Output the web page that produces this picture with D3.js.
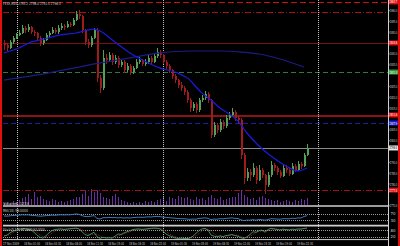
<!DOCTYPE html>
<html>
<head>
<meta charset="utf-8">
<script src="https://cdn.jsdelivr.net/npm/d3@7"></script>
<style>
html, body { margin: 0; padding: 0; background: #000; }
svg { display: block; }
text { font-family: "DejaVu Sans", sans-serif; }
</style>
</head>
<body>
<svg id="chart" width="400" height="246"></svg>
<script>
// ---- data ----
const title = "FESX,M30  2793.2 2798.0 2792.5 2796.4";

// [open, high, low, close] per bar
const candles = [
  [2845.0,2846.0,2841.5,2843.9],[2843.9,2844.8,2841.0,2842.5],[2842.5,2846.0,2842.0,2845.2],[2845.2,2848.0,2844.5,2847.1],
  [2847.1,2849.5,2846.5,2848.5],[2848.5,2850.6,2847.8,2849.4],[2849.4,2853.0,2849.0,2851.7],[2851.7,2852.8,2849.6,2850.8],
  [2850.8,2853.4,2850.0,2852.2],[2852.2,2852.8,2848.9,2849.8],[2849.8,2851.0,2848.2,2849.4],[2849.4,2850.0,2846.0,2847.1],
  [2847.1,2848.0,2843.5,2844.8],[2844.8,2847.3,2843.9,2846.2],[2846.2,2849.3,2845.5,2848.5],[2848.5,2850.5,2847.6,2849.4],
  [2849.4,2852.0,2848.8,2850.8],[2850.8,2851.6,2848.7,2849.8],[2849.8,2852.9,2849.0,2851.7],[2851.7,2853.8,2850.9,2852.6],
  [2852.6,2853.6,2851.0,2852.2],[2852.2,2854.8,2851.5,2853.5],[2853.5,2854.6,2852.0,2853.1],[2853.1,2856.5,2852.6,2855.4],
  [2855.4,2859.5,2854.8,2858.1],[2858.1,2859.8,2855.9,2857.2],[2857.2,2857.9,2849.5,2850.8],[2850.8,2851.4,2843.9,2845.2],
  [2845.2,2846.6,2842.4,2843.9],[2843.9,2848.0,2843.0,2847.1],[2847.1,2851.9,2846.4,2850.8],[2850.8,2851.5,2827.0,2828.6],
  [2828.6,2830.0,2821.6,2824.0],[2824.0,2841.5,2823.0,2837.9],[2837.9,2839.5,2835.0,2836.9],[2836.9,2840.6,2835.9,2839.2],
  [2839.2,2840.0,2834.8,2836.0],[2836.0,2839.1,2834.9,2837.9],[2837.9,2838.6,2833.3,2834.6],[2834.6,2837.4,2833.8,2836.0],
  [2836.0,2836.8,2830.9,2832.3],[2832.3,2835.6,2831.4,2834.2],[2834.2,2835.0,2830.0,2831.4],[2831.4,2834.4,2830.6,2833.3],
  [2833.3,2837.2,2832.6,2836.0],[2836.0,2838.3,2835.1,2836.9],[2836.9,2837.6,2834.0,2835.1],[2835.1,2837.5,2834.3,2836.0],
  [2836.0,2839.2,2835.2,2837.9],[2837.9,2838.6,2834.8,2836.0],[2836.0,2840.0,2835.4,2838.8],[2838.8,2842.5,2838.0,2840.6],
  [2840.6,2841.5,2838.0,2839.2],[2839.2,2839.9,2834.9,2836.0],[2836.0,2836.8,2833.0,2834.2],[2834.2,2835.0,2831.1,2832.3],
  [2832.3,2833.0,2828.3,2829.6],[2829.6,2830.5,2826.5,2827.7],[2827.7,2828.4,2824.1,2825.4],[2825.4,2826.6,2822.6,2824.0],
  [2824.0,2825.0,2820.8,2822.2],[2822.2,2823.0,2817.0,2818.5],[2818.5,2819.4,2813.2,2814.8],[2814.8,2817.8,2813.6,2816.7],
  [2816.7,2817.4,2812.5,2813.9],[2813.9,2819.6,2813.2,2818.5],[2818.5,2820.8,2817.5,2819.4],[2819.4,2822.8,2818.6,2821.3],
  [2821.3,2822.0,2817.0,2818.5],[2818.5,2819.2,2801.0,2802.4],[2802.4,2808.4,2801.5,2807.0],[2807.0,2807.8,2803.5,2804.7],
  [2804.7,2809.6,2803.9,2808.4],[2808.4,2809.2,2805.2,2806.5],[2806.5,2811.4,2805.8,2810.2],[2810.2,2812.9,2809.3,2811.6],
  [2811.6,2814.6,2810.8,2813.0],[2813.0,2813.8,2808.9,2810.2],[2810.2,2811.5,2807.6,2809.3],[2809.3,2810.0,2791.5,2793.1],
  [2793.1,2794.0,2780.0,2782.5],[2782.5,2787.0,2781.2,2785.3],[2785.3,2786.5,2781.0,2783.9],[2783.9,2789.5,2783.0,2787.2],
  [2787.2,2788.0,2779.6,2781.6],[2781.6,2788.6,2781.0,2786.2],[2786.2,2787.0,2782.4,2783.9],[2783.9,2784.6,2775.0,2779.3],
  [2779.3,2785.2,2778.3,2783.9],[2783.9,2790.5,2783.2,2788.5],[2788.5,2789.6,2786.0,2787.2],[2787.2,2788.2,2784.0,2785.3],
  [2785.3,2786.1,2782.4,2783.5],[2783.5,2788.4,2782.9,2787.2],[2787.2,2788.6,2785.0,2786.2],[2786.2,2787.0,2783.3,2784.4],
  [2784.4,2789.4,2783.8,2788.1],[2788.1,2788.9,2785.2,2786.2],[2786.2,2790.4,2785.6,2789.0],[2789.0,2789.8,2786.8,2788.1],
  [2788.1,2794.0,2787.4,2793.2],[2793.2,2798.0,2792.5,2796.4]
];

const volumes = [
  2,3,2,4,3, 5,7,9,12,6, 14,8,10,6,5, 4,6,5,3,4, 3,4,5,6,8, 9,12,15,10,17,
  14,16,13,9,7, 6,10,12,8,5, 4,3,2,3,2, 3,2,4,3,4, 3,5,6,8,4, 9,7,6,10,8,
  7,9,6,5,8, 6,7,5,9,11, 7,6,8,5,6, 7,8,9,13,16, 11,9,6,7,5, 8,10,7,6,5,
  4,5,3,4,5, 4,3,5,4,6, 5,7
];

// moving averages, [bar, price]
const maFast = [[0,2840.2],[5,2842.5],[9,2845.2],[12,2846.2],[19,2848.5],[24,2849.4],[30,2851.2],[32,2850.3],
  [37,2845.2],[42,2840.2],[47,2836.4],[52,2833.2],[58,2830.9],[62,2827.7],[64,2824.5],[66,2821.7],[69,2818.5],
  [72,2814.8],[74,2813.0],[78,2808.8],[81,2803.3],[85,2797.3],[89,2792.7],[94,2788.1],[98,2785.8],[101,2787.2]];
const maSlow = [[0,2827.7],[15,2831.0],[25,2833.7],[32,2835.6],[42,2837.9],[52,2840.2],[62,2841.1],
  [72,2841.1],[79,2840.6],[85,2839.7],[92,2837.4],[100,2833.7]];

const rsi = [
  56,55,57,59,60,61,63,62,63,60, 59,57,55,56,58,59,61,60,62,63, 62,63,63,65,68,66,58,53,52,55,
  58,42,38,46,46,48,46,47,45,46, 44,46,44,46,48,49,48,49,51,50, 52,54,52,49,48,46,44,43,41,40,
  40,38,36,38,37,42,43,45,42,34, 38,37,40,39,42,43,45,42,41,33, 29,32,31,35,31,36,34,31,35,40,
  39,38,37,40,40,39,43,41,45,44, 53,58
];
const stochMain = [
  25,35,55,70,80,88,90,92,85,80, 60,35,15,8,30,55,75,85,88,90, 85,88,92,95,97,90,65,40,30,45,
  60,20,5,15,10,12,8,25,45,40, 55,65,75,85,88,90,85,88,92,95, 97,96,90,70,45,30,20,10,5,8,
  5,4,10,25,50,75,90,95,80,35, 25,20,28,22,30,35,40,30,25,10, 5,20,40,65,60,75,80,60,85,95,
  90,85,80,88,85,80,88,85,90,88, 95,97
];
const stochSignal = [
  30,32,38,57,74,86,89,90,89,86, 75,58,37,19,18,31,53,72,83,88, 88,88,88,92,95,94,84,65,45,38,
  45,42,28,13,10,12,10,15,26,37, 47,55,65,75,83,88,88,88,88,92, 95,96,94,85,68,48,32,20,12,8,
  6,6,6,13,28,50,72,87,88,70, 47,27,24,23,27,29,35,35,32,22, 13,12,22,42,55,67,72,72,75,80,
  90,90,85,84,84,84,84,84,88,88, 91,93
];

const priceTicks = [2860,2855,2850,2845,2840,2835,2830,2825,2820,2815,2810,2805,2800,2795,2790,2785,2780,2775,2770];
const levelPrices = [2863.7, 2859.1, 2844.8, 2831.4, 2811.6, 2807.9, 2796.4, 2777.0];
const levelStyles = [
  { c: "#d01010", dash: "6,3", w: 1.5, box: "#e01010", txt: "#fff" },
  { c: "#a01020", dash: "6,2,1,2", w: 1, box: null },
  { c: "#7a1010", dash: null, w: 1, box: "#e01010", txt: "#fff" },
  { c: "#2f7a35", dash: "5,3", w: 1, box: "#2f9a35", txt: "#fff" },
  { c: "#8a1414", dash: null, w: 2, box: "#e01010", txt: "#fff" },
  { c: "#1a1aa8", dash: "5,3", w: 1, box: "#1a1ad0", txt: "#fff" },
  { c: "#8a8a8a", dash: null, w: 1, box: "#e8e8e8", txt: "#000" },
  { c: "#a01020", dash: "6,2,1,2", w: 1, box: "#e01010", txt: "#fff" }
];
const separators = [4.4, 53, 104.7];
const timeLabels = [[0,"17 Nov 2009"],[7,"18 Nov 01:00"],[14,"18 Nov 04:30"],[21,"18 Nov 08:00"],[28,"18 Nov 11:30"],
  [35,"18 Nov 15:00"],[42,"18 Nov 18:30"],[49,"18 Nov 22:00"],[56,"19 Nov 01:30"],[63,"19 Nov 05:00"],
  [70,"19 Nov 08:30"],[77,"19 Nov 12:00"],[84,"19 Nov 15:30"],[91,"19 Nov 19:00"],[98,"19 Nov 22:30"]];
const rsiLevels = [70, 30];
const stochLevels = [80, 20];

// ---- layout ----
const W = 400, H = 246;
const axisX = 388;
const svg = d3.select("#chart");
svg.append("rect").attr("width", W).attr("height", H).attr("fill", "#000");

const x = d3.scaleLinear().domain([0, 100]).range([4, 304]);
const y = d3.scaleLinear().domain([2775, 2864.6]).range([194.4, 0]);
const yVol = d3.scaleLinear().domain([0, 18]).range([205, 188]);
const yRsi = d3.scaleLinear().domain([0, 100]).range([225.5, 208.5]);
const ySto = d3.scaleLinear().domain([0, 100]).range([239, 227.8]);

// tiny squeezed text: real font height, width fitted by a horizontal scale
function label(parent, tx, ty, str, size, width, fill) {
  const t = parent.append("text")
    .attr("font-size", size).attr("fill", fill || "#cfcfcf").text(str);
  const natural = t.node().getComputedTextLength() || 1;
  const k = Math.min(1, width / natural);
  t.attr("transform", `translate(${tx},${ty}) scale(${k},1)`);
  return t;
}

const plot = svg.append("g").attr("shape-rendering", "crispEdges");

// volumes
plot.selectAll("rect.vol").data(volumes).join("rect")
  .attr("class", "vol")
  .attr("x", (d, i) => Math.round(x(i)))
  .attr("y", d => yVol(d))
  .attr("width", 1)
  .attr("height", d => yVol(0) - yVol(d))
  .attr("fill", "#6a2fa0");

// horizontal levels
levelPrices.forEach((p, i) => {
  const s = levelStyles[i];
  plot.append("line")
    .attr("x1", 3).attr("x2", axisX)
    .attr("y1", Math.round(y(p)) + 0.5).attr("y2", Math.round(y(p)) + 0.5)
    .attr("stroke", s.c).attr("stroke-width", s.w)
    .attr("stroke-dasharray", s.dash);
});

// period separators
separators.forEach(b => {
  plot.append("line")
    .attr("x1", Math.round(x(b)) + 0.5).attr("x2", Math.round(x(b)) + 0.5)
    .attr("y1", 0).attr("y2", 240)
    .attr("stroke", "#bdbdbd").attr("stroke-dasharray", "1,1");
});

// candles
const cg = plot.selectAll("g.c").data(candles).join("g").attr("class", "c");
cg.append("line")
  .attr("x1", (d, i) => Math.round(x(i)) + 0.5).attr("x2", (d, i) => Math.round(x(i)) + 0.5)
  .attr("y1", d => y(d[1])).attr("y2", d => y(d[2]))
  .attr("stroke", d => d[3] >= d[0] ? "#54a055" : "#a01c1c");
cg.append("rect")
  .attr("x", (d, i) => Math.round(x(i)))
  .attr("y", d => y(Math.max(d[0], d[3])))
  .attr("width", 2)
  .attr("height", d => Math.max(1, Math.abs(y(d[0]) - y(d[3]))))
  .attr("fill", d => d[3] >= d[0] ? "#54a055" : "#a01c1c");

// moving averages
const maLine = d3.line().x(d => x(d[0])).y(d => y(d[1])).curve(d3.curveMonotoneX);
svg.append("path").attr("d", maLine(maSlow)).attr("fill", "none").attr("stroke", "#1c1c86").attr("stroke-width", 1.2);
svg.append("path").attr("d", maLine(maFast)).attr("fill", "none").attr("stroke", "#1a1ae0").attr("stroke-width", 1.2);

// sub window frames
[[206, 1.6], [225.6, 1.6], [239.6, 1]].forEach(([yy, w]) => {
  svg.append("line").attr("x1", 3).attr("x2", axisX).attr("y1", yy).attr("y2", yy)
    .attr("stroke", "#cfcfcf").attr("stroke-width", w);
});

// rsi window
rsiLevels.forEach(v => {
  svg.append("line").attr("x1", 3).attr("x2", axisX)
    .attr("y1", Math.round(yRsi(v)) + 0.5).attr("y2", Math.round(yRsi(v)) + 0.5)
    .attr("stroke", "#9a9a9a").attr("stroke-dasharray", "1,1").attr("shape-rendering", "crispEdges");
});
svg.append("path")
  .attr("d", d3.line().x((d, i) => x(i)).y(d => yRsi(d))(rsi))
  .attr("fill", "none").attr("stroke", "#3f79b8").attr("stroke-width", 1);

// stochastic window
stochLevels.forEach(v => {
  svg.append("line").attr("x1", 3).attr("x2", axisX)
    .attr("y1", Math.round(ySto(v)) + 0.5).attr("y2", Math.round(ySto(v)) + 0.5)
    .attr("stroke", "#9a9a9a").attr("stroke-dasharray", "1,1").attr("shape-rendering", "crispEdges");
});
svg.append("path")
  .attr("d", d3.line().x((d, i) => x(i)).y(d => ySto(d))(stochSignal))
  .attr("fill", "none").attr("stroke", "#b02020").attr("stroke-width", 0.9).attr("stroke-dasharray", "1,1");
svg.append("path")
  .attr("d", d3.line().x((d, i) => x(i)).y(d => ySto(d))(stochMain))
  .attr("fill", "none").attr("stroke", "#3c9c6a").attr("stroke-width", 0.9);

// price axis (ticks hidden where a level box sits)
const boxed = levelPrices.filter((p, i) => levelStyles[i].box);
const shownTicks = priceTicks.filter(t => boxed.every(p => Math.abs(y(t) - y(p)) > 5));
svg.append("line").attr("x1", axisX + 0.5).attr("x2", axisX + 0.5).attr("y1", 0).attr("y2", 246)
  .attr("stroke", "#cfcfcf");
const axisG = svg.append("g").attr("transform", `translate(${axisX},0)`);
axisG.call(d3.axisRight(y).tickValues(shownTicks).tickSize(1.5).tickFormat(""));
axisG.select(".domain").remove();
axisG.selectAll(".tick line").attr("stroke", "#cfcfcf");
axisG.selectAll(".tick").each(function(d) {
  label(d3.select(this), 1.8, 1.5, d3.format(".1f")(d), 4, 7.6);
});

// level price boxes
levelPrices.forEach((p, i) => {
  const s = levelStyles[i];
  if (!s.box) return;
  const yy = y(p);
  svg.append("rect").attr("x", axisX + 1).attr("y", yy - 2.5).attr("width", 9).attr("height", 5).attr("fill", s.box);
  label(svg, axisX + 1.6, yy + 1.5, d3.format(".1f")(p), 4, 7.6, s.txt);
});

// sub window axis labels
const subLabels = [[yRsi(70), "70"], [yRsi(30), "30"], [ySto(80), "80"], [ySto(20), "20"]];
subLabels.forEach(([yy, t]) => label(svg, axisX + 2.5, yy + 1.5, t, 4, 5));

// time axis
timeLabels.forEach(([b, t]) => label(svg, x(b) - 1, 245, t, 4, 16));

// window captions
label(svg, 3, 5, title, 4.2, 58);
label(svg, 3, 204.5, "Volumes 1234", 4, 26);
label(svg, 3, 211.5, "RSI(14) " + rsi[rsi.length - 1].toFixed(4), 4, 25);
label(svg, 3, 230.5, "Stoch(5,3,3) " + stochMain[stochMain.length - 1].toFixed(4) + " " +
  stochSignal[stochSignal.length - 1].toFixed(4), 4, 42);

// red frame
svg.append("rect").attr("x", 0).attr("y", 0).attr("width", 2).attr("height", H).attr("fill", "#e01010");
svg.append("rect").attr("x", 398).attr("y", 0).attr("width", 2).attr("height", H).attr("fill", "#e01010");
</script>
</body>
</html>
